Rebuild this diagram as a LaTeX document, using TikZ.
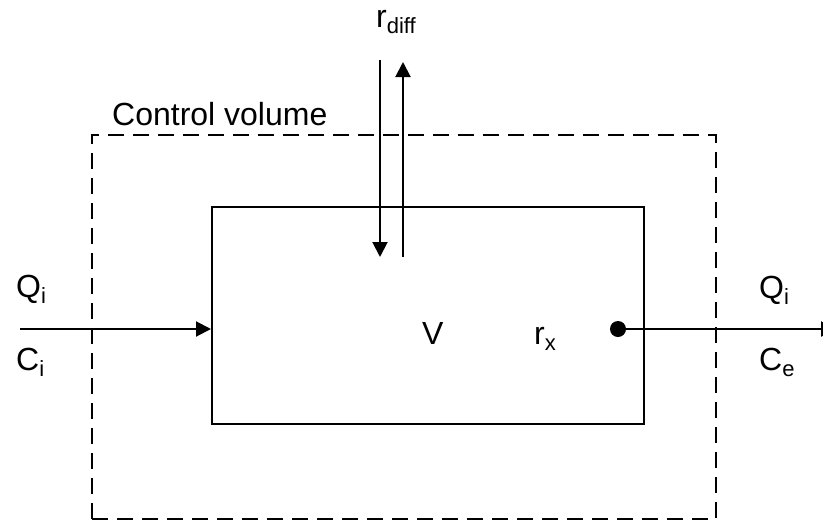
\documentclass[tikz,border=0pt]{standalone}
\usepackage{fontspec}
\setmainfont{Liberation Sans}
\usetikzlibrary{arrows.meta}
\newcommand{\mysub}[1]{\raisebox{-6pt}{\fontsize{22}{22}\selectfont #1}}
\begin{document}
\begin{tikzpicture}[x=1pt,y=-1pt,
  lbl/.style={inner sep=0pt,anchor=base west,font=\fontsize{32}{38}\selectfont},
  flow/.style={line width=2pt,-{Triangle[length=15pt,width=15pt]}},
  plainline/.style={line width=2pt}]
\useasboundingbox (0,0) rectangle (823,523);
\clip (0,0) rectangle (823,523);
% control volume
\node (cv) [draw,line width=2pt,dash pattern=on 16pt off 9pt,minimum width=624pt,minimum height=384pt,inner sep=0pt] at (404,327) {};
% reactor box
\node (box) [draw,line width=2pt,minimum width=432pt,minimum height=217pt,inner sep=0pt] at (428,315.5) {};
% labels
\node (cvl) [lbl] at (112,125) {Control volume};
\node (vl) [lbl] at (422,344) {V};
\node (rx) [lbl] at (534,344) {r\mysub{x}};
\node (rd) [lbl] at (376,27) {r\mysub{diff}};
\node (qil) [lbl] at (16,297) {Q\mysub{i}};
\node (cil) [lbl] at (16,370) {C\mysub{i}};
\node (qir) [lbl] at (759,298) {Q\mysub{i}};
\node (cer) [lbl] at (759,370) {C\mysub{e}};
% inflow
\coordinate (inL) at (20,329);
\draw[flow] (inL) -- (box.west |- inL);
% outflow
\node (dot) [circle,fill=black,minimum size=16pt,inner sep=0pt] at (618,329) {};
\coordinate (outR) at (836,329);
\draw[flow] (dot.center) -- (outR);
% diffusion arrows
\coordinate (dTop) at (380,60);
\coordinate (dBot) at (380,257);
\coordinate (uBot) at (403,257);
\coordinate (uTop) at (403,62);
\draw[flow] (dTop) -- (dBot);
\draw[flow] (uBot) -- (uTop);
\end{tikzpicture}
\end{document}
